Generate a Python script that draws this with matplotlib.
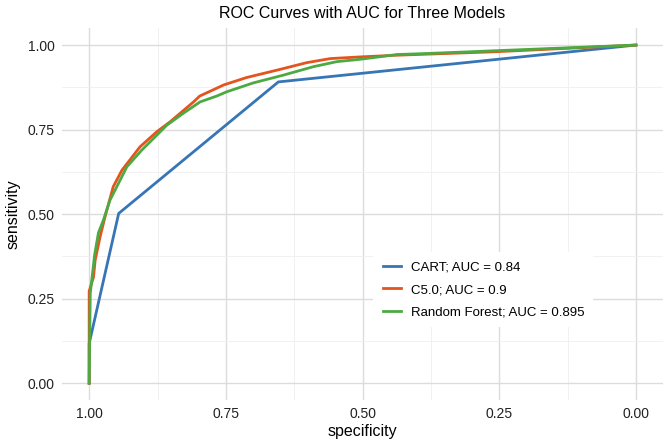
import numpy as np
import matplotlib
matplotlib.use("Agg")
import matplotlib.pyplot as plt

plt.rcParams['font.family'] = ['Liberation Sans', 'DejaVu Sans']

# ROC curve points (specificity, sensitivity)
cart_spec = [1.0, 1.0, 0.946, 0.654, 0.0]
cart_sens = [0.0, 0.117, 0.502, 0.891, 1.0]

c50_spec = [1.0, 1.0, 0.992, 0.989, 0.980, 0.971, 0.956, 0.940, 0.907, 0.876,
            0.852, 0.809, 0.798, 0.754, 0.712, 0.651, 0.602, 0.559, 0.504,
            0.437, 0.261, 0.0]
c50_sens = [0.0, 0.272, 0.314, 0.364, 0.433, 0.492, 0.581, 0.630, 0.699, 0.744,
            0.773, 0.832, 0.849, 0.882, 0.904, 0.928, 0.948, 0.960, 0.965,
            0.970, 0.980, 1.0]

rf_spec = [1.0, 0.998, 0.990, 0.983, 0.974, 0.962, 0.931, 0.904, 0.876, 0.858,
           0.828, 0.797, 0.767, 0.748, 0.700, 0.645, 0.590, 0.547, 0.504,
           0.437, 0.383, 0.0]
rf_sens = [0.0, 0.265, 0.380, 0.445, 0.482, 0.541, 0.640, 0.689, 0.734, 0.763,
           0.798, 0.832, 0.849, 0.862, 0.888, 0.911, 0.936, 0.951, 0.958,
           0.972, 0.975, 1.0]

labels = ["CART; AUC = 0.84", "C5.0; AUC = 0.9", "Random Forest; AUC = 0.895"]
colors = ["#3775B5", "#E4541E", "#4DAA42"]

fig = plt.figure(figsize=(6.72, 4.47), dpi=100)
ax = fig.add_axes([0.092, 0.105, 0.895, 0.832])

ax.plot(cart_spec, cart_sens, color=colors[0], lw=2.0, label=labels[0])
ax.plot(c50_spec, c50_sens, color=colors[1], lw=2.0, label=labels[1])
ax.plot(rf_spec, rf_sens, color=colors[2], lw=2.0, label=labels[2])

ax.set_xlim(1.05, -0.05)
ax.set_ylim(-0.05, 1.05)
ticks = [1.0, 0.75, 0.5, 0.25, 0.0]
ax.set_xticks(ticks)
ax.set_yticks(ticks)
ax.set_xticklabels(["%.2f" % t for t in ticks])
ax.set_yticklabels(["%.2f" % t for t in ticks])
ax.set_xticks(np.arange(0.125, 1.0, 0.25), minor=True)
ax.set_yticks(np.arange(0.125, 1.0, 0.25), minor=True)
ax.grid(which='major', color='#dcdcdc', lw=1.0)
ax.grid(which='minor', color='#efefef', lw=0.6)
ax.set_axisbelow(True)
for s in ax.spines.values():
    s.set_visible(False)
ax.tick_params(which='both', length=0, labelsize=10, labelcolor='#222222', pad=5)

ax.set_xlabel("specificity", fontsize=11.5, labelpad=2)
ax.set_ylabel("sensitivity", fontsize=11.5, labelpad=5)
ax.set_title("ROC Curves with AUC for Three Models", fontsize=11.5, pad=7)

leg = ax.legend(loc='center', bbox_to_anchor=(0.701, 0.296), frameon=True,
                fontsize=9.5, handlelength=1.36, handletextpad=0.76,
                borderpad=0.7, labelspacing=0.75)
leg.get_frame().set_edgecolor('none')
leg.get_frame().set_facecolor('white')
leg.get_frame().set_alpha(1.0)

fig.savefig("out.png", dpi=100)
